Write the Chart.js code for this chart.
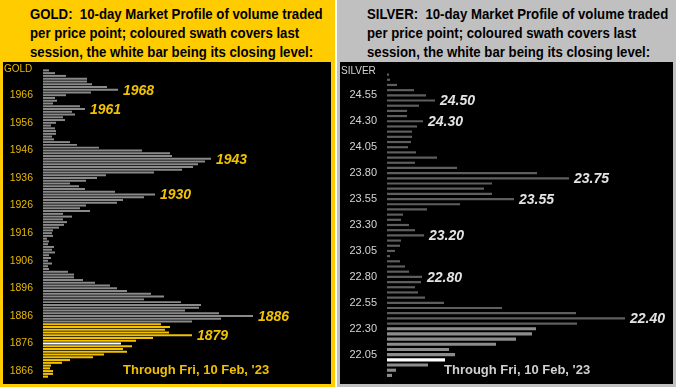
<!DOCTYPE html>
<html>
<head>
<meta charset="utf-8">
<script src="https://cdn.jsdelivr.net/npm/chart.js@4.4.0/dist/chart.umd.min.js"></script>
<style>
  body { margin: 0; width: 676px; height: 387px; background: #fff; overflow: hidden; font-family: "Liberation Sans", Arial, sans-serif; }
  .panel { position: absolute; top: 0; height: 387px; }
  #goldPanel { left: 0; width: 335px; background: #ffcc00; }
  #silverPanel { left: 337px; width: 339px; background: #c0c0c0; }
  .head { position: absolute; left: 30px; top: 4px; font-weight: bold; font-size: 15px; line-height: 19px; color: #000;
          transform: scaleX(0.88); transform-origin: 0 0; white-space: nowrap; }
  .plot { position: absolute; left: 3px; top: 62px; height: 322px; background: #000; }
  canvas { display: block; }
</style>
</head>
<body>
<div class="panel" id="goldPanel">
  <div class="head">GOLD:&nbsp; 10-day Market Profile of volume traded<br>per price point; coloured swath covers last<br>session, the white bar being its closing level:</div>
  <div class="plot" style="width:328px"><canvas id="goldChart" width="328" height="322"></canvas></div>
</div>
<div class="panel" id="silverPanel">
  <div class="head">SILVER:&nbsp; 10-day Market Profile of volume traded<br>per price point; coloured swath covers last<br>session, the white bar being its closing level:</div>
  <div class="plot" style="width:333px"><canvas id="silverChart" width="333" height="322"></canvas></div>
</div>
<script>
// Gold: one bar per $1, from 1975 (top) down to 1864 (bottom).
const goldTop = 1975;
const goldVolume = [
  6, 12, 23, 44, 44, 49, 64, 75, 48, 23,          // 1975-1966
  12, 14, 10, 37, 42, 29, 32, 20, 22, 13,         // 1965-1956
  8, 12, 13, 13, 9, 11, 27, 34, 56, 99,           // 1955-1946
  127, 129, 168, 162, 155, 150, 139, 111, 63, 54, // 1945-1936
  43, 27, 36, 42, 72, 112, 101, 80, 74, 43,       // 1935-1926
  37, 47, 20, 29, 20, 24, 21, 16, 10, 9,          // 1925-1916
  10, 4, 6, 5, 11, 9, 12, 6, 8, 5,                // 1915-1906
  9, 5, 6, 25, 31, 31, 40, 52, 67, 74,            // 1905-1896
  84, 108, 121, 101, 138, 158, 156, 142, 176, 210, // 1895-1886
  178, 149, 118, 127, 122, 126, 149, 110, 93, 78, // 1885-1876
  89, 80, 84, 61, 50, 27, 19, 8, 7, 10,           // 1875-1866
  10, 5                                           // 1865-1864
];
const goldTicks = ['1966', '1956', '1946', '1936', '1926', '1916', '1906', '1896', '1886', '1876', '1866'];
const goldCallouts = ['1968', '1961', '1943', '1930', '1886', '1879'];
const goldSwath = [1864, 1883];   // last session range
const goldClose = 1876;

// Silver: one bar per 5 cents, from 24.75 (top) down to 21.85 (bottom).
const silverTopCents = 2475;
const silverVolume = [
  2, 3, 10, 27, 39, 48, 32, 20, 20, 36,           // 24.75-24.30
  30, 25, 25, 24, 21, 29, 50, 28, 70, 150,        // 24.25-23.80
  182, 105, 97, 105, 127, 73, 40, 16, 14, 22,     // 23.75-23.30
  28, 37, 14, 13, 8, 3, 13, 18, 22, 35,           // 23.25-22.80
  34, 28, 31, 38, 57, 115, 189, 238, 190, 149,    // 22.75-22.30
  145, 129, 109, 62, 68, 58, 41, 9, 5             // 22.25-21.85
];
const silverTicks = ['24.55', '24.30', '24.05', '23.80', '23.55', '23.30', '23.05', '22.80', '22.55', '22.30', '22.05'];
const silverCallouts = ['24.50', '24.30', '23.75', '23.55', '23.20', '22.80', '22.40'];
const silverSwath = [21.85, 22.30];
const silverClose = 22.00;

const goldLabels = goldVolume.map((_, i) => String(goldTop - i));
const silverLabels = silverVolume.map((_, i) => ((silverTopCents - i * 5) / 100).toFixed(2));

const FONT = '"Liberation Sans", Arial, sans-serif';

// Draws the corner name, the level callouts and the date line.
const profileText = {
  id: 'profileText',
  afterDatasetsDraw(chart, args, o) {
    const { ctx, chartArea, scales: { x, y } } = chart;
    ctx.save();
    ctx.textBaseline = 'alphabetic';
    ctx.textAlign = 'left';
    ctx.fillStyle = o.tickColor;
    ctx.font = '10px ' + FONT;
    ctx.fillText(o.name, 1, o.nameY);

    ctx.fillStyle = o.calloutColor;
    ctx.font = 'italic bold 14px ' + FONT;
    ctx.textBaseline = 'middle';
    o.callouts.forEach(c => {
      const i = o.labels.indexOf(c);
      ctx.fillText(c, x.getPixelForValue(o.volume[i]) + 5, y.getPixelForValue(i) + 1);
    });

    ctx.textBaseline = 'alphabetic';
    ctx.fillStyle = o.dateColor;
    ctx.font = 'bold 13px ' + FONT;
    ctx.fillText("Through Fri, 10 Feb, '23", chartArea.left + o.dateX, chartArea.bottom - 4);
    ctx.restore();
  }
};

function makeProfile(canvasId, cfg) {
  const inSwath = l => +l >= cfg.swath[0] && +l <= cfg.swath[1];
  const prior = cfg.volume.map((v, i) => inSwath(cfg.labels[i]) ? null : v);
  const last = cfg.volume.map((v, i) => inSwath(cfg.labels[i]) ? v : null);
  const lastColors = cfg.labels.map(l => +l === cfg.close ? '#ffffff' : cfg.swathColor);

  return new Chart(document.getElementById(canvasId), {
    type: 'bar',
    data: {
      labels: cfg.labels,
      datasets: [
        { data: prior, backgroundColor: cfg.barColor, barPercentage: cfg.barPct, categoryPercentage: 1, grouped: false },
        { data: last, backgroundColor: lastColors, barPercentage: cfg.swathPct, categoryPercentage: 1, grouped: false }
      ]
    },
    options: {
      indexAxis: 'y',
      responsive: false,
      animation: false,
      layout: { padding: { top: cfg.padTop, bottom: cfg.padBottom, left: 0, right: 0 } },
      plugins: {
        legend: { display: false },
        tooltip: { enabled: false },
        profileText: {
          name: cfg.name, nameY: cfg.nameY, labels: cfg.labels, volume: cfg.volume, callouts: cfg.callouts,
          tickColor: cfg.tickColor, calloutColor: cfg.calloutColor, dateColor: cfg.dateColor, dateX: cfg.dateX
        }
      },
      scales: {
        x: { type: 'linear', display: false, min: 0, max: cfg.xMax },
        y: {
          type: 'category',
          offset: true,
          grid: { display: false, drawTicks: false, tickLength: 0 },
          border: { display: false },
          afterFit: scale => {
            scale.width = cfg.axisWidth;
            // keep the plot height set by layout padding only
            scale.paddingTop = 0;
            scale.paddingBottom = 0;
          },
          ticks: {
            autoSkip: false,
            padding: 10,
            color: cfg.tickColor,
            font: { family: FONT, size: cfg.tickSize },
            callback: function (v) {
              const l = this.getLabelForValue(v);
              return cfg.ticks.includes(l) ? l : '';
            }
          }
        }
      }
    },
    plugins: [profileText]
  });
}

makeProfile('goldChart', {
  labels: goldLabels, volume: goldVolume, ticks: goldTicks, callouts: goldCallouts,
  swath: goldSwath, close: goldClose, name: 'GOLD', nameY: 10,
  barColor: '#8a8a8a', swathColor: '#f2c200', barPct: 0.72, swathPct: 0.75,
  tickColor: '#e6b800', calloutColor: '#f2c200', dateColor: '#f0c000', tickSize: 10.5,
  axisWidth: 40, xMax: 288, padTop: 7, padBottom: 6, dateX: 80
});

makeProfile('silverChart', {
  labels: silverLabels, volume: silverVolume, ticks: silverTicks, callouts: silverCallouts,
  swath: silverSwath, close: silverClose, name: 'SILVER', nameY: 12,
  barColor: '#5e5e5e', swathColor: '#8c8c8c', barPct: 0.42, swathPct: 0.6,
  tickColor: '#d4d4d4', calloutColor: '#e4e4e4', dateColor: '#d0d0d0', tickSize: 11,
  axisWidth: 47, xMax: 286, padTop: 10, padBottom: 6, dateX: 57
});
</script>
</body>
</html>
